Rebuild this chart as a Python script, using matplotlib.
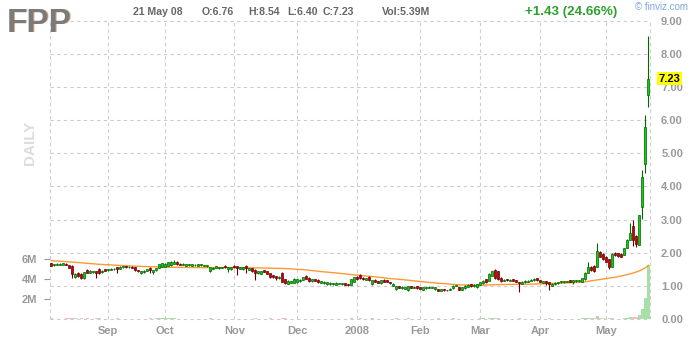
import numpy as np
import pandas as pd
import matplotlib
matplotlib.use("Agg")
import matplotlib.pyplot as plt

plt.rcParams["font.family"] = ["Liberation Sans", "DejaVu Sans"]
plt.rcParams["font.weight"] = "bold"

# ------------------------------------------------------------
# data: FPP daily, 7 Aug 2007 .. 21 May 2008
# ------------------------------------------------------------
HOLIDAYS = ["2007-09-03", "2007-11-22", "2007-12-25", "2008-01-01",
            "2008-01-21", "2008-02-18", "2008-03-21"]
dates = pd.bdate_range("2007-08-07", "2008-05-21", freq="C", holidays=HOLIDAYS)

opens = [
    # Aug
    1.68, 1.62, 1.64, 1.63, 1.64, 1.66, 1.62, 1.61, 1.27, 1.40, 1.36, 1.24, 1.49, 1.40, 1.41, 1.45, 1.52, 1.41, 1.50,
    # Sep
    1.47, 1.49, 1.50, 1.56, 1.52, 1.56, 1.59, 1.56, 1.58, 1.56, 1.47, 1.39, 1.42, 1.46, 1.55, 1.41, 1.47, 1.55, 1.58,
    # Oct
    1.58, 1.60, 1.62, 1.66, 1.73, 1.67, 1.63, 1.61, 1.62, 1.61, 1.62, 1.61, 1.62, 1.60, 1.61, 1.44, 1.52, 1.55, 1.53,
    1.54, 1.61, 1.50, 1.50,
    # Nov
    1.61, 1.60, 1.52, 1.50, 1.61, 1.48, 1.53, 1.49, 1.38, 1.36, 1.47, 1.45, 1.38, 1.32, 1.29, 1.23, 1.40, 1.20, 1.07,
    1.10, 1.09,
    # Dec
    1.12, 1.15, 1.18, 1.30, 1.25, 1.14, 1.20, 1.19, 1.10, 1.09, 1.05, 1.06, 1.05, 1.04, 1.06, 1.05, 1.08, 1.05, 1.03,
    1.13,
    # Jan
    1.28, 1.33, 1.24, 1.19, 1.28, 1.05, 1.19, 1.14, 1.08, 1.19, 1.18, 1.12, 1.01, 0.90, 0.99, 0.93, 0.92, 0.86, 0.99,
    0.94, 0.99,
    # Feb
    0.96, 0.88, 0.93, 0.94, 0.95, 0.92, 0.90, 0.84, 0.90, 0.88, 0.87, 0.93, 1.00, 0.97, 0.88, 0.93, 0.98, 1.05, 0.99,
    0.96,
    # Mar
    1.03, 1.08, 1.20, 1.15, 1.31, 1.48, 1.44, 1.25, 1.15, 1.21, 1.15, 1.20, 1.18, 1.12, 1.06, 1.11, 1.12, 1.15, 1.17,
    1.23,
    # Apr
    1.18, 1.10, 1.15, 1.12, 1.01, 1.05, 1.08, 1.11, 1.11, 1.12, 1.17, 1.12, 1.14, 1.14, 1.13, 1.20, 1.40, 1.58, 1.60,
    1.58, 2.03, 1.96,
    # May
    1.88, 1.81, 1.58, 2.00, 1.98, 1.97, 1.93, 2.15, 2.39, 2.81, 2.51, 2.23, 3.37, 4.68, 6.76,
]
highs = [
    1.70, 1.67, 1.68, 1.69, 1.70, 1.69, 1.63, 1.62, 1.40, 1.43, 1.38, 1.43, 1.50, 1.47, 1.46, 1.46, 1.53, 1.48, 1.52,
    1.51, 1.53, 1.54, 1.57, 1.60, 1.61, 1.61, 1.60, 1.60, 1.57, 1.48, 1.45, 1.47, 1.52, 1.56, 1.48, 1.55, 1.67, 1.69,
    1.69, 1.73, 1.74, 1.77, 1.75, 1.68, 1.68, 1.67, 1.66, 1.67, 1.66, 1.67, 1.66, 1.64, 1.63, 1.58, 1.56, 1.61, 1.58,
    1.57, 1.62, 1.58, 1.57,
    1.62, 1.61, 1.57, 1.58, 1.62, 1.55, 1.54, 1.50, 1.45, 1.46, 1.48, 1.46, 1.39, 1.34, 1.30, 1.29, 1.41, 1.21, 1.17,
    1.16, 1.24,
    1.21, 1.20, 1.27, 1.33, 1.26, 1.21, 1.22, 1.20, 1.16, 1.14, 1.13, 1.11, 1.10, 1.11, 1.10, 1.09, 1.09, 1.06, 1.21,
    1.27,
    1.30, 1.37, 1.26, 1.24, 1.29, 1.18, 1.20, 1.16, 1.19, 1.20, 1.19, 1.13, 1.08, 1.01, 1.00, 0.99, 0.98, 1.01, 1.00,
    0.99, 1.00,
    0.97, 0.98, 0.98, 0.99, 0.98, 0.97, 0.91, 0.91, 0.91, 0.89, 0.93, 1.02, 1.04, 0.98, 0.97, 1.02, 1.05, 1.06, 1.05,
    1.06,
    1.13, 1.18, 1.22, 1.38, 1.46, 1.50, 1.46, 1.26, 1.20, 1.22, 1.20, 1.21, 1.19, 1.13, 1.14, 1.17, 1.17, 1.20, 1.23,
    1.24,
    1.19, 1.15, 1.16, 1.13, 1.08, 1.11, 1.13, 1.15, 1.16, 1.16, 1.18, 1.18, 1.18, 1.19, 1.25, 1.41, 1.73, 1.60, 1.62,
    2.30, 2.05, 1.98,
    1.90, 1.82, 1.98, 2.02, 2.00, 1.99, 2.15, 2.41, 2.90, 2.99, 2.53, 3.15, 4.50, 6.16, 8.54,
]
lows = [
    1.60, 1.60, 1.62, 1.62, 1.63, 1.62, 1.53, 1.23, 1.25, 1.27, 1.22, 1.22, 1.38, 1.38, 1.40, 1.23, 1.36, 1.40, 1.44,
    1.46, 1.48, 1.49, 1.38, 1.51, 1.55, 1.54, 1.55, 1.54, 1.46, 1.42, 1.37, 1.40, 1.45, 1.40, 1.37, 1.46, 1.54, 1.57,
    1.57, 1.59, 1.60, 1.65, 1.64, 1.62, 1.62, 1.60, 1.61, 1.60, 1.61, 1.60, 1.61, 1.59, 1.58, 1.43, 1.50, 1.54, 1.52,
    1.53, 1.55, 1.42, 1.49,
    1.55, 1.33, 1.51, 1.49, 1.40, 1.47, 1.43, 1.18, 1.36, 1.35, 1.41, 1.35, 1.25, 1.25, 1.18, 1.22, 1.12, 1.07, 1.06,
    1.09, 1.08,
    1.10, 1.13, 1.17, 1.20, 1.13, 1.13, 1.14, 1.10, 1.08, 1.07, 1.04, 1.04, 1.03, 1.03, 1.05, 1.04, 1.03, 1.01, 1.02,
    1.12,
    1.19, 1.22, 1.19, 1.17, 1.16, 1.03, 1.11, 1.09, 1.07, 1.11, 1.12, 1.06, 1.00, 0.88, 0.93, 0.92, 0.91, 0.84, 0.93,
    0.93, 0.92,
    0.91, 0.87, 0.92, 0.93, 0.94, 0.86, 0.83, 0.83, 0.85, 0.85, 0.86, 0.92, 0.99, 0.87, 0.87, 0.92, 0.97, 0.98, 0.98,
    0.95,
    1.02, 1.07, 1.10, 1.14, 1.30, 1.22, 1.19, 1.12, 1.14, 1.15, 1.14, 1.15, 1.11, 0.80, 1.05, 1.10, 1.11, 1.14, 1.16,
    1.16,
    1.11, 1.09, 1.02, 0.88, 1.00, 1.04, 1.07, 1.10, 1.10, 1.11, 1.12, 1.07, 1.13, 1.13, 1.12, 1.19, 1.39, 1.46, 1.43,
    1.56, 1.86, 1.78,
    1.71, 1.52, 1.56, 1.90, 1.88, 1.86, 1.92, 2.14, 2.38, 2.20, 2.18, 2.22, 3.01, 4.42, 6.40,
]
closes = [
    1.61, 1.65, 1.66, 1.67, 1.69, 1.64, 1.55, 1.36, 1.36, 1.29, 1.24, 1.41, 1.40, 1.45, 1.45, 1.40, 1.38, 1.46, 1.46,
    1.50, 1.51, 1.52, 1.50, 1.58, 1.60, 1.56, 1.58, 1.55, 1.47, 1.44, 1.44, 1.46, 1.50, 1.48, 1.47, 1.54, 1.66, 1.68,
    1.67, 1.72, 1.73, 1.73, 1.66, 1.63, 1.67, 1.66, 1.65, 1.66, 1.64, 1.66, 1.65, 1.63, 1.62, 1.57, 1.55, 1.60, 1.57,
    1.56, 1.56, 1.57, 1.56,
    1.56, 1.55, 1.56, 1.57, 1.55, 1.54, 1.44, 1.40, 1.44, 1.45, 1.42, 1.36, 1.26, 1.26, 1.23, 1.28, 1.13, 1.08, 1.16,
    1.15, 1.22,
    1.20, 1.19, 1.26, 1.22, 1.15, 1.20, 1.15, 1.12, 1.15, 1.13, 1.12, 1.10, 1.09, 1.10, 1.09, 1.08, 1.04, 1.02, 1.20,
    1.26,
    1.21, 1.24, 1.21, 1.23, 1.17, 1.17, 1.12, 1.10, 1.18, 1.12, 1.13, 1.08, 1.06, 1.00, 0.94, 0.98, 0.97, 1.00, 0.94,
    0.98, 0.94,
    0.92, 0.97, 0.97, 0.98, 0.97, 0.96, 0.84, 0.90, 0.86, 0.86, 0.92, 1.01, 1.03, 0.88, 0.96, 1.01, 1.04, 0.99, 1.04,
    1.05,
    1.12, 1.16, 1.12, 1.37, 1.44, 1.24, 1.21, 1.14, 1.18, 1.17, 1.19, 1.16, 1.12, 1.08, 1.13, 1.16, 1.16, 1.19, 1.22,
    1.17,
    1.12, 1.14, 1.09, 1.05, 1.07, 1.10, 1.12, 1.14, 1.15, 1.15, 1.13, 1.17, 1.17, 1.18, 1.24, 1.40, 1.58, 1.48, 1.45,
    2.05, 1.88, 1.80,
    1.73, 1.58, 1.96, 1.92, 1.90, 1.88, 2.13, 2.39, 2.59, 2.39, 2.27, 3.13, 4.28, 5.80, 7.23,
]
# volume, millions of shares
volumes = [
    0.06, 0.04, 0.05, 0.03, 0.05, 0.07, 0.09, 0.12, 0.06, 0.05, 0.07, 0.05, 0.06, 0.04, 0.04, 0.06, 0.07, 0.05, 0.04,
    0.04, 0.05, 0.03, 0.06, 0.05, 0.04, 0.03, 0.04, 0.03, 0.05, 0.04, 0.05, 0.04, 0.05, 0.06, 0.05, 0.06, 0.08, 0.06,
    0.07, 0.08, 0.06, 0.07, 0.05, 0.04, 0.04, 0.03, 0.04, 0.03, 0.04, 0.03, 0.03, 0.04, 0.03, 0.06, 0.04, 0.04, 0.03,
    0.03, 0.04, 0.05, 0.04,
    0.04, 0.05, 0.03, 0.04, 0.05, 0.03, 0.05, 0.07, 0.04, 0.04, 0.03, 0.04, 0.06, 0.04, 0.05, 0.03, 0.08, 0.06, 0.05,
    0.04, 0.05,
    0.04, 0.03, 0.05, 0.05, 0.04, 0.03, 0.04, 0.04, 0.03, 0.03, 0.04, 0.03, 0.03, 0.03, 0.02, 0.02, 0.03, 0.03, 0.06,
    0.05,
    0.05, 0.06, 0.04, 0.03, 0.05, 0.06, 0.04, 0.04, 0.05, 0.04, 0.03, 0.04, 0.05, 0.07, 0.05, 0.04, 0.03, 0.06, 0.04,
    0.03, 0.04,
    0.04, 0.05, 0.03, 0.03, 0.03, 0.04, 0.06, 0.05, 0.04, 0.03, 0.04, 0.06, 0.05, 0.05, 0.04, 0.05, 0.04, 0.04, 0.04,
    0.05,
    0.06, 0.06, 0.05, 0.10, 0.09, 0.08, 0.06, 0.05, 0.04, 0.03, 0.04, 0.03, 0.04, 0.07, 0.04, 0.03, 0.03, 0.04, 0.03,
    0.04,
    0.04, 0.03, 0.05, 0.07, 0.04, 0.03, 0.04, 0.03, 0.04, 0.03, 0.04, 0.05, 0.04, 0.05, 0.07, 0.12, 0.15, 0.08, 0.07,
    0.32, 0.10, 0.06,
    0.05, 0.07, 0.08, 0.04, 0.05, 0.04, 0.08, 0.12, 0.20, 0.16, 0.20, 0.45, 1.00, 2.15, 5.39,
]
# 50-day moving average, read at a few bar positions
ma_pos = [0, 8, 16, 24, 32, 40, 50, 61, 70, 78, 84, 90, 96, 101, 107, 112, 118, 123, 129, 136,
          143, 150, 160, 166, 172, 177, 182, 188, 193, 196, 198, 199]
ma_val = [1.76, 1.71, 1.65, 1.61, 1.58, 1.56, 1.55, 1.55, 1.54, 1.52, 1.49, 1.43, 1.38, 1.33, 1.28, 1.23, 1.18,
          1.13, 1.08, 1.03, 1.02, 1.04, 1.05, 1.07, 1.09, 1.11, 1.18, 1.26, 1.36, 1.45, 1.54, 1.62]

TICKER = "FPP"
HEADER_DATE = "21 May 08"
CHANGE_TXT = "+1.43 (24.66%)"

# ------------------------------------------------------------
# layout (pixel based, 700 x 340)
# ------------------------------------------------------------
W, H = 700, 340
GRID = dict(color="#cccccc", linestyle=(0, (3, 3)), linewidth=0.8)
GRAY = "#999999"

def px(x, y):
    return x / W, 1 - y / H

fig = plt.figure(figsize=(W / 100, H / 100), dpi=100)
rect = [50 / W, (H - 319) / H, 600 / W, (319 - 20.7) / H]
axv = fig.add_axes(rect)
ax = fig.add_axes(rect, facecolor="none")

o = np.array(opens)
hi = np.array(highs)
lo = np.array(lows)
c = np.array(closes)
v = np.array(volumes)
x = np.arange(len(dates))
xlim = (-0.43, len(dates) - 0.43)

# volume bars
up = c >= o
axv.bar(x[up], v[up], width=0.95, color="#a8dfa8", linewidth=0)
axv.bar(x[~up], v[~up], width=0.95, color="#f5c0c0", linewidth=0)
axv.set_xlim(xlim)
axv.set_ylim(0, (319 - 20.7) / 10)
axv.set_yticks([2, 4, 6])
axv.set_yticklabels(["2M", "4M", "6M"])
axv.set_xticks([])
axv.tick_params(axis="y", length=4, width=0.8, color=GRAY, pad=5,
                labelsize=8, labelcolor=GRAY)
for s in axv.spines.values():
    s.set_visible(False)

# price panel
ax.set_xlim(xlim)
ax.set_ylim(0, 9)
for s in ax.spines.values():
    s.set_visible(False)

month_pos = [i for i in range(1, len(dates)) if dates[i].month != dates[i - 1].month]
month_lbl = ["2008" if dates[i].month == 1 else dates[i].strftime("%b") for i in month_pos]
for p in month_pos + list(xlim):
    ax.axvline(p, zorder=0, clip_on=False, **GRID)
for yv in range(0, 10):
    ax.axhline(yv, zorder=0, clip_on=False, **GRID)

ax.set_xticks(month_pos)
ax.set_xticklabels(month_lbl)
ax.set_yticks(range(0, 10))
ax.set_yticklabels([f"{t:.2f}" for t in range(0, 10)])
ax.yaxis.tick_right()
ax.tick_params(axis="y", length=0, pad=8, labelsize=8, labelcolor=GRAY)
ax.tick_params(axis="x", length=0, pad=5, labelsize=8, labelcolor=GRAY)

# moving average
ax.plot(ma_pos, ma_val, color="#ff9933", linewidth=1.0, zorder=2)

# candles
dn = ~up
ax.vlines(x[up], lo[up], hi[up], color="#006600", linewidth=0.8, zorder=3)
ax.vlines(x[dn], lo[dn], hi[dn], color="#660000", linewidth=0.8, zorder=3)
ax.bar(x[up], np.maximum(c - o, 0.012)[up], bottom=o[up], width=0.62,
       color="#11cc11", edgecolor="#006600", linewidth=0.5, zorder=4)
ax.bar(x[dn], np.maximum(o - c, 0.012)[dn], bottom=c[dn], width=0.62,
       color="#cc0000", edgecolor="#660000", linewidth=0.5, zorder=4)

# last price tag
ax.annotate(f"{c[-1]:.2f}", xy=(1, c[-1] + 0.02), xycoords=("axes fraction", "data"),
            xytext=(6.4, 0), textcoords="offset points", ha="left", va="center",
            fontsize=8, color="black",
            bbox=dict(boxstyle="square,pad=0.15", facecolor="#ffff00", edgecolor="none"))

# header
fig.text(*px(8, 32.5), TICKER, fontsize=24, color="#e0b080", va="baseline", ha="left")
fig.text(*px(7, 32), TICKER, fontsize=24, color="#7b7b7b", va="baseline", ha="left")
fig.text(*px(133, 15), HEADER_DATE, fontsize=7.6, color="#666666", va="baseline")
ohlc_txt = [(202, f"O:{o[-1]:.2f}"), (248, f"H:{hi[-1]:.2f}"),
            (287, f"L:{lo[-1]:.2f}"), (323, f"C:{c[-1]:.2f}"),
            (382, f"Vol:{v[-1]:.2f}M")]
for xp, t in ohlc_txt:
    fig.text(*px(xp, 15), t, fontsize=7.6, color="#666666", va="baseline")
fig.text(*px(525, 14.5), CHANGE_TXT, fontsize=9.6, color="#2ca02c", va="baseline")
fig.text(*px(635, 10.5), "\u00a9 finviz.com", fontsize=7, color="#7fa7d9",
         va="baseline", fontweight="normal")
fig.text(*px(30, 143), "DAILY", fontsize=11, color="#dddddd", rotation=90,
         ha="center", va="center")

fig.savefig("out.png", dpi=100, facecolor="white")
